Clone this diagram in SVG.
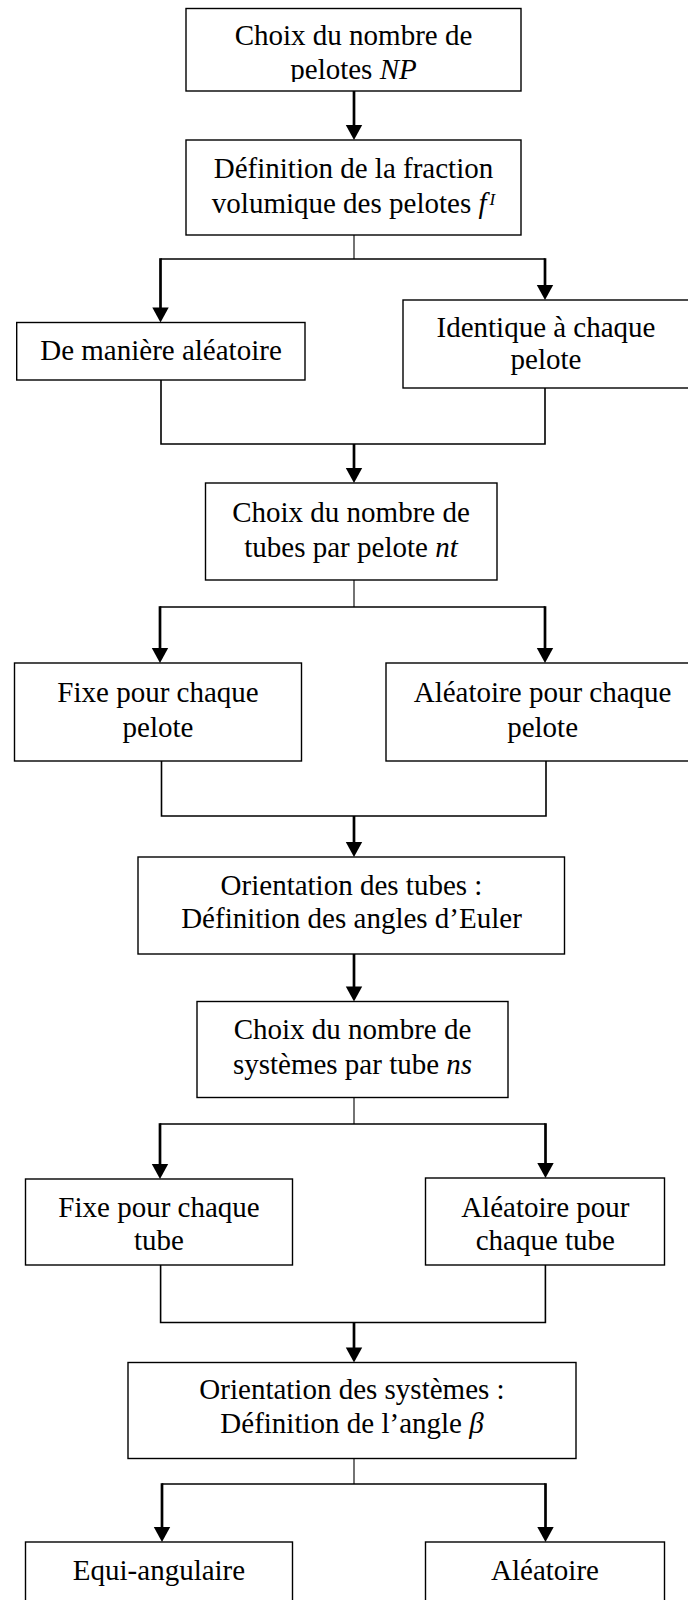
<svg xmlns="http://www.w3.org/2000/svg" xmlns:xlink="http://www.w3.org/1999/xlink" width="688" height="1600" viewBox="0 0 688 1600">
  <style>
    .box { fill: #ffffff; stroke: #000000; stroke-width: 1.4; }
    .t { font-family: "Liberation Serif", "Times New Roman", serif; font-size: 29px; fill: #000000; text-anchor: middle; }
    .i { font-style: italic; }
    .sup { font-style: italic; font-size: 17px; }
    .shaft { stroke: #000000; stroke-width: 2.7; fill: none; }
    .thin { stroke: #000000; stroke-width: 1.1; fill: none; }
    .join { stroke: #000000; stroke-width: 1.6; fill: none; }
  </style>
  <defs>
    <path id="ah" d="M-8.2,-15 L8.2,-15 L0,0 Z" fill="#000000"/>
    <clipPath id="clip1">
      <rect x="186" y="8" width="335" height="74"/>
    </clipPath>
  </defs>
  <rect x="0" y="0" width="688" height="1600" fill="#ffffff"/>

  <g id="connectors">
    <!-- box1 -> box2 -->
    <line class="shaft" x1="354" y1="91" x2="354" y2="126"/>
    <use xlink:href="#ah" x="354" y="140"/>
    <!-- box2 split -->
    <line class="thin" x1="354" y1="235" x2="354" y2="259"/>
    <polyline class="join" points="160.5,259 545,259"/>
    <line class="shaft" x1="160.5" y1="258.2" x2="160.5" y2="308.5"/>
    <use xlink:href="#ah" x="160.5" y="322.5"/>
    <line class="shaft" x1="545" y1="258.2" x2="545" y2="286"/>
    <use xlink:href="#ah" x="545" y="300"/>
    <!-- merge to box5 -->
    <polyline class="join" points="161,380 161,444 545,444 545,388"/>
    <line class="shaft" x1="354" y1="444" x2="354" y2="469"/>
    <use xlink:href="#ah" x="354" y="483"/>
    <!-- box5 split -->
    <line class="thin" x1="354" y1="580" x2="354" y2="607"/>
    <polyline class="join" points="160,607 545,607"/>
    <line class="shaft" x1="160" y1="606.2" x2="160" y2="649"/>
    <use xlink:href="#ah" x="160" y="663"/>
    <line class="shaft" x1="545" y1="606.2" x2="545" y2="649"/>
    <use xlink:href="#ah" x="545" y="663"/>
    <!-- merge to box8 -->
    <polyline class="join" points="161.5,761 161.5,816 546,816 546,761"/>
    <line class="shaft" x1="354" y1="816" x2="354" y2="843"/>
    <use xlink:href="#ah" x="354" y="857"/>
    <!-- box8 -> box9 -->
    <line class="shaft" x1="354" y1="954" x2="354" y2="987.5"/>
    <use xlink:href="#ah" x="354" y="1001.5"/>
    <!-- box9 split -->
    <line class="thin" x1="354" y1="1097.5" x2="354" y2="1124"/>
    <polyline class="join" points="160,1124 545.5,1124"/>
    <line class="shaft" x1="160" y1="1123.2" x2="160" y2="1165"/>
    <use xlink:href="#ah" x="160" y="1179"/>
    <line class="shaft" x1="545.5" y1="1123.2" x2="545.5" y2="1164"/>
    <use xlink:href="#ah" x="545.5" y="1178"/>
    <!-- merge to box12 -->
    <polyline class="join" points="160.6,1265 160.6,1322.5 545.4,1322.5 545.4,1265"/>
    <line class="shaft" x1="354" y1="1322.5" x2="354" y2="1348.5"/>
    <use xlink:href="#ah" x="354" y="1362.5"/>
    <!-- box12 split -->
    <line class="thin" x1="354" y1="1458.5" x2="354" y2="1484"/>
    <polyline class="join" points="162,1484 545.5,1484"/>
    <line class="shaft" x1="162" y1="1483.2" x2="162" y2="1528"/>
    <use xlink:href="#ah" x="162" y="1542"/>
    <line class="shaft" x1="545.5" y1="1483.2" x2="545.5" y2="1528"/>
    <use xlink:href="#ah" x="545.5" y="1542"/>
  </g>

  <g id="node-nombre-pelotes">
    <rect class="box" x="186" y="8.5" width="335" height="82.5"/>
    <g clip-path="url(#clip1)">
      <text class="t" x="353.5" y="45">Choix du nombre de</text>
      <text class="t" x="353.5" y="79">pelotes <tspan class="i">NP</tspan></text>
    </g>
  </g>

  <g id="node-fraction">
    <rect class="box" x="186" y="140" width="335" height="95"/>
    <text class="t" x="353.5" y="178">Définition de la fraction</text>
    <text class="t" x="353.5" y="213">volumique des pelotes <tspan class="i">f</tspan><tspan class="sup" dx="3" dy="-8">I</tspan></text>
  </g>

  <g id="node-aleatoire-1">
    <rect class="box" x="16.7" y="322.5" width="288.3" height="57.5"/>
    <text class="t" x="161" y="360">De manière aléatoire</text>
  </g>

  <g id="node-identique">
    <rect class="box" x="403" y="300" width="286" height="88"/>
    <text class="t" x="546" y="337">Identique à chaque</text>
    <text class="t" x="546" y="369">pelote</text>
  </g>

  <g id="node-nombre-tubes">
    <rect class="box" x="205.5" y="483" width="291.5" height="97"/>
    <text class="t" x="351" y="521.5">Choix du nombre de</text>
    <text class="t" x="351" y="556.5">tubes par pelote <tspan class="i">nt</tspan></text>
  </g>

  <g id="node-fixe-pelote">
    <rect class="box" x="14.5" y="663" width="287" height="98"/>
    <text class="t" x="158" y="701.5">Fixe pour chaque</text>
    <text class="t" x="158" y="736.5">pelote</text>
  </g>

  <g id="node-aleatoire-pelote">
    <rect class="box" x="386" y="663" width="316" height="98"/>
    <text class="t" x="542.6" y="701.5">Aléatoire pour chaque</text>
    <text class="t" x="542.6" y="736.5">pelote</text>
  </g>

  <g id="node-orientation-tubes">
    <rect class="box" x="138" y="857" width="426.5" height="97"/>
    <text class="t" x="351.5" y="895">Orientation des tubes :</text>
    <text class="t" x="351.5" y="928">Définition des angles d’Euler</text>
  </g>

  <g id="node-nombre-systemes">
    <rect class="box" x="197" y="1001.5" width="311" height="96"/>
    <text class="t" x="352.5" y="1039">Choix du nombre de</text>
    <text class="t" x="352.5" y="1074">systèmes par tube <tspan class="i">ns</tspan></text>
  </g>

  <g id="node-fixe-tube">
    <rect class="box" x="25.5" y="1179" width="267" height="86"/>
    <text class="t" x="159" y="1216.5">Fixe pour chaque</text>
    <text class="t" x="159" y="1249.5">tube</text>
  </g>

  <g id="node-aleatoire-tube">
    <rect class="box" x="425.5" y="1178" width="239" height="87"/>
    <text class="t" x="545.3" y="1216.5">Aléatoire pour</text>
    <text class="t" x="545.3" y="1249.5">chaque tube</text>
  </g>

  <g id="node-orientation-systemes">
    <rect class="box" x="128" y="1362.5" width="448" height="96"/>
    <text class="t" x="352" y="1399">Orientation des systèmes :</text>
    <text class="t" x="352" y="1433">Définition de l’angle <tspan class="i">β</tspan></text>
  </g>

  <g id="node-equi-angulaire">
    <rect class="box" x="25.5" y="1542" width="267" height="80"/>
    <text class="t" x="159" y="1580">Equi-angulaire</text>
  </g>

  <g id="node-aleatoire-angle">
    <rect class="box" x="425.5" y="1542" width="239" height="80"/>
    <text class="t" x="545" y="1580">Aléatoire</text>
  </g>
</svg>
